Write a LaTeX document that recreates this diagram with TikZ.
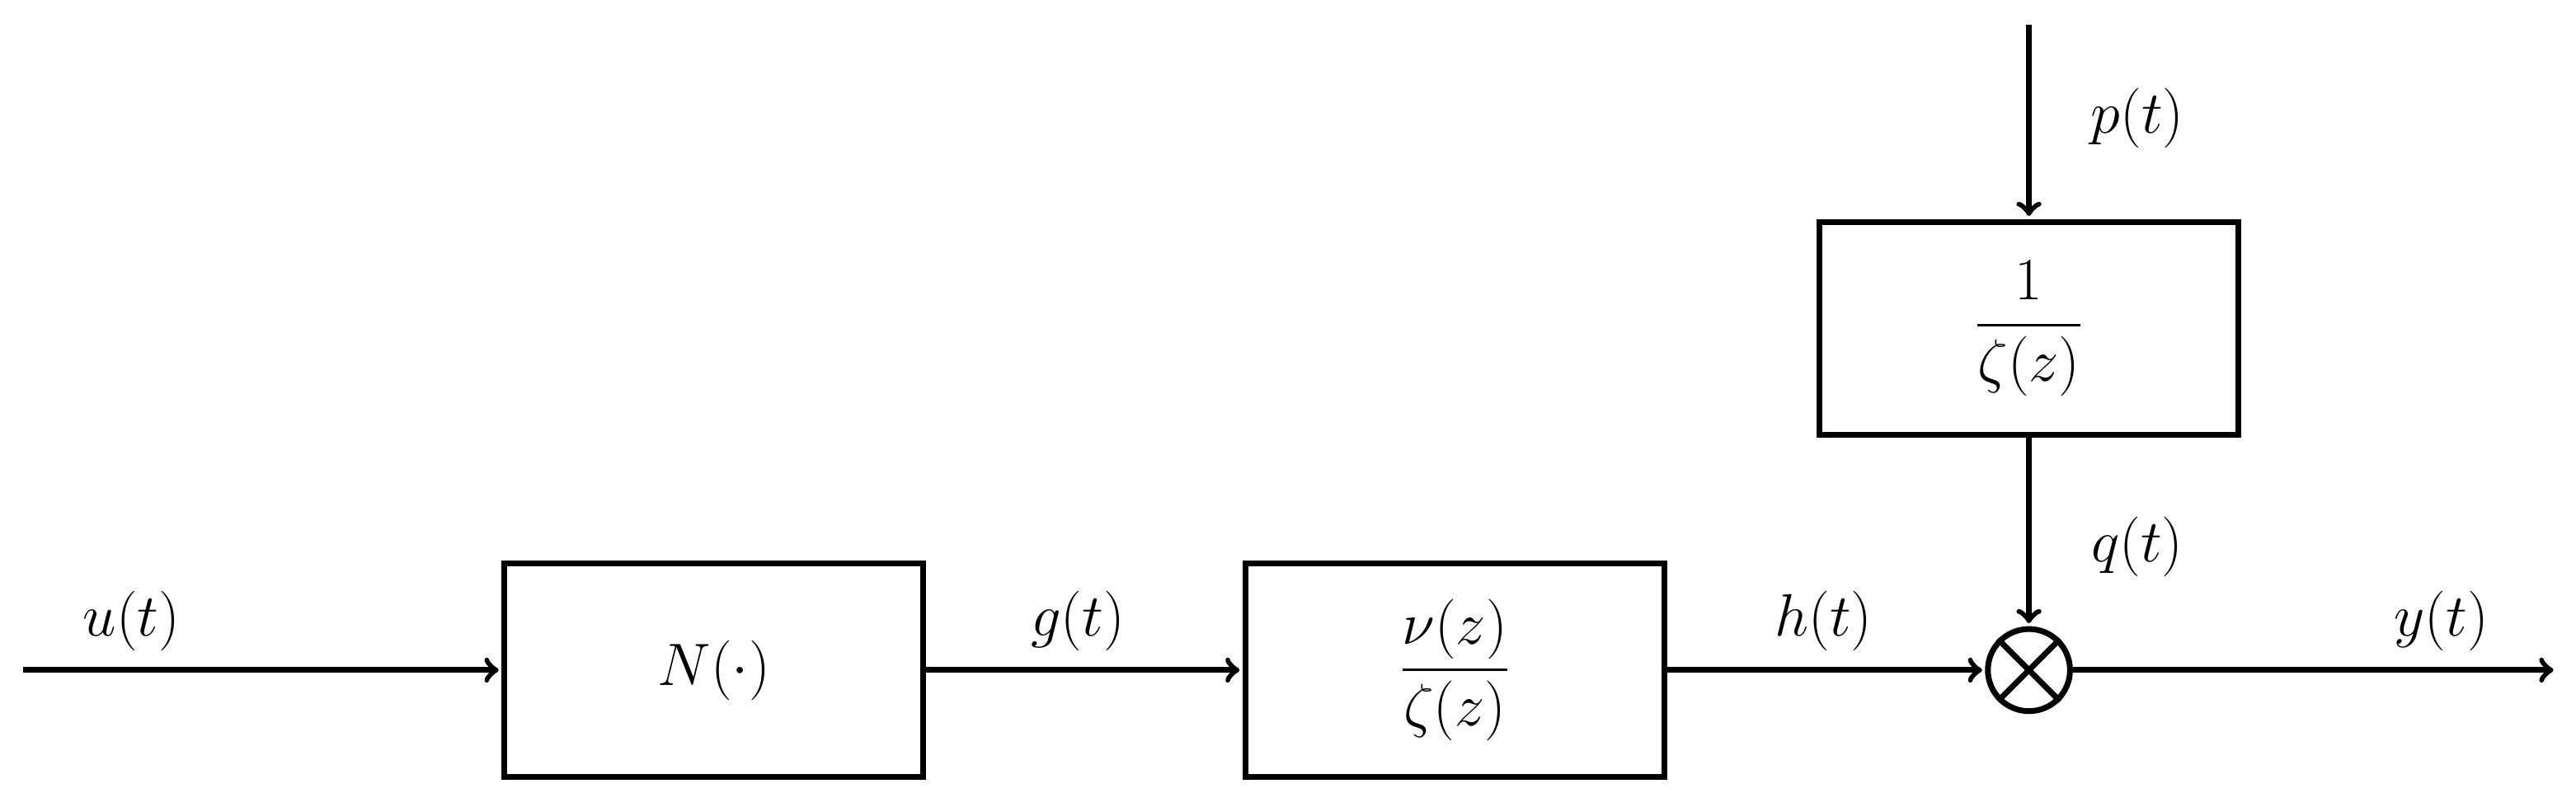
\documentclass[tikz,border=0pt]{standalone}
\usepackage{amsmath}
\usetikzlibrary{positioning,arrows}

\begin{document}
\begin{tikzpicture}[x=0.02cm,y=-0.02cm,
block/.style={draw=black, line width=2pt, minimum width=5.1cm, minimum height=2.6cm, font=\fontsize{21}{25}\selectfont},
sig/.style={font=\fontsize{21}{25}\selectfont},
mult/.style={circle, draw=black, line width=2pt, minimum size=1.0cm, inner sep=0pt},
flow/.style={->, >=to, line width=2pt, shorten >=1pt}]
\useasboundingbox (0,0) rectangle (1568,491);

\node (Nonlin) [block] at (434.5,408) {$N(\cdot)$};
\node (Plant) [block] at (885.5,408) {$\dfrac{\nu(z)}{\zeta(z)}$};
\node (Noise) [block] at (1235,200) {$\dfrac{1}{\zeta(z)}$};
\node (Mult) [mult] at (1235,408) {};
\draw[line width=2pt] (Mult.north east) -- (Mult.south west)
                      (Mult.north west) -- (Mult.south east);

\coordinate (In) at (14,408);
\coordinate (Out) at (1556,408);
\coordinate (Top) at (1235,15);

%
\draw[flow] (In) -- (Nonlin.west);
\draw[flow] (Nonlin.east) -- (Plant.west);
\draw[flow] (Plant.east) -- (Mult.west);
\draw[flow] (Mult.east) -- (Out);
\draw[flow] (Top) -- (Noise.north);
\draw[flow] (Noise.south) -- (Mult.north);

%
\node (lu) [sig] at (80,378) {$u(t)$};
\node (lg) [sig] at (656,378) {$g(t)$};
\node (lh) [sig] at (1110,378) {$h(t)$};
\node (ly) [sig] at (1486,378) {$y(t)$};
\node (lp) [sig] at (1301,72) {$p(t)$};
\node (lq) [sig] at (1301,333) {$q(t)$};
\end{tikzpicture}
\end{document}
